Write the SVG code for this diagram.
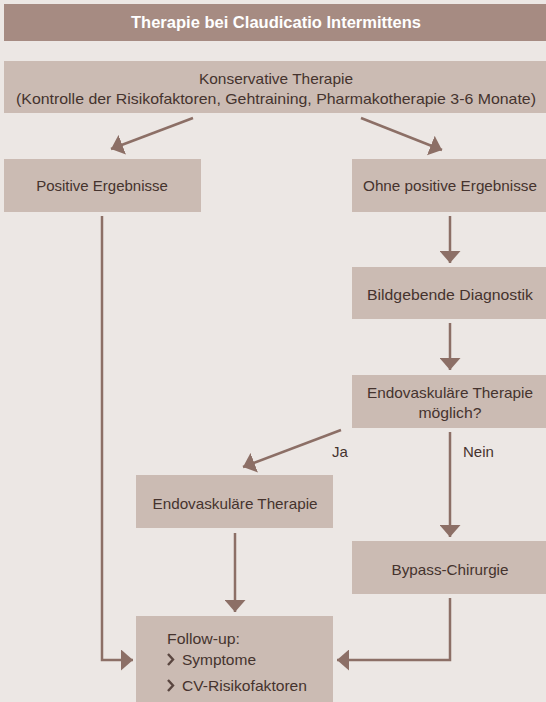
<svg xmlns="http://www.w3.org/2000/svg" width="546" height="702" viewBox="0 0 546 702">
<style>
.box{fill:#CBBBB3}
.t{font-family:"Liberation Sans",Arial,sans-serif;font-size:15px;fill:#45332E}
.c{text-anchor:middle}
.title{font-family:"Liberation Sans",Arial,sans-serif;font-size:16px;font-weight:bold;fill:#FFFFFF;text-anchor:middle}
.ln{fill:none;stroke:#8C6F66;stroke-width:2.5}
.chev{fill:none;stroke:#5A4640;stroke-width:2.4}
</style>
<defs>
<marker id="ah" viewBox="0 0 12 21" refX="12" refY="10.5" markerWidth="12" markerHeight="21" markerUnits="userSpaceOnUse" orient="auto">
<path d="M0,0 L12,10.5 L0,21 z" fill="#8C6F66"/>
</marker>
</defs>
<rect x="0" y="0" width="546" height="702" fill="#ECE7E4"/>
<g id="title">
<rect x="4" y="4" width="542" height="37" fill="#A68B82"/>
<text class="title" x="276" y="28" textLength="290" lengthAdjust="spacingAndGlyphs">Therapie bei Claudicatio Intermittens</text>
</g>
<g id="konservativ">
<rect class="box" x="4" y="61" width="542" height="52"/>
<text class="t c" x="276" y="84" textLength="154" lengthAdjust="spacingAndGlyphs">Konservative Therapie</text>
<text class="t c" x="276" y="104" textLength="520" lengthAdjust="spacingAndGlyphs">(Kontrolle der Risikofaktoren, Gehtraining, Pharmakotherapie 3-6 Monate)</text>
</g>
<g id="positiv">
<rect class="box" x="4" y="159" width="197" height="53"/>
<text class="t c" x="102" y="191">Positive Ergebnisse</text>
</g>
<g id="ohne">
<rect class="box" x="352" y="159" width="194" height="53"/>
<text class="t c" x="450" y="191" textLength="174" lengthAdjust="spacingAndGlyphs">Ohne positive Ergebnisse</text>
</g>
<g id="bildgebend">
<rect class="box" x="352" y="267" width="194" height="52"/>
<text class="t c" x="450" y="300" textLength="166" lengthAdjust="spacingAndGlyphs">Bildgebende Diagnostik</text>
</g>
<g id="moeglich">
<rect class="box" x="352" y="375" width="194" height="53"/>
<text class="t c" x="450" y="398" textLength="166" lengthAdjust="spacingAndGlyphs">Endovaskuläre Therapie</text>
<text class="t c" x="450" y="418" textLength="63" lengthAdjust="spacingAndGlyphs">möglich?</text>
</g>
<g id="endovaskulaer">
<rect class="box" x="136" y="475" width="197" height="53"/>
<text class="t c" x="235" y="509" textLength="165" lengthAdjust="spacingAndGlyphs">Endovaskuläre Therapie</text>
</g>
<g id="bypass">
<rect class="box" x="352" y="541" width="194" height="53"/>
<text class="t c" x="450" y="575" textLength="117" lengthAdjust="spacingAndGlyphs">Bypass-Chirurgie</text>
</g>
<g id="followup">
<rect class="box" x="136" y="616" width="197" height="86"/>
<text class="t" x="167" y="644" textLength="73" lengthAdjust="spacingAndGlyphs">Follow-up:</text>
<path class="chev" d="M168,654 L173,659.5 L168,665"/>
<text class="t" x="182" y="665" textLength="74" lengthAdjust="spacingAndGlyphs">Symptome</text>
<path class="chev" d="M168,680 L173,685.5 L168,691"/>
<text class="t" x="182" y="691" textLength="125" lengthAdjust="spacingAndGlyphs">CV-Risikofaktoren</text>
</g>
<g id="connectors">
<path class="ln" d="M193,118 L111,149" marker-end="url(#ah)"/>
<path class="ln" d="M361,118 L442,150" marker-end="url(#ah)"/>
<path class="ln" d="M102,216 L102,660 L133,660" marker-end="url(#ah)"/>
<path class="ln" d="M450,216 L450,263" marker-end="url(#ah)"/>
<path class="ln" d="M450,323 L450,370" marker-end="url(#ah)"/>
<path class="ln" d="M341,430 L243,467" marker-end="url(#ah)"/>
<path class="ln" d="M450,432 L450,537" marker-end="url(#ah)"/>
<path class="ln" d="M235,533 L235,612" marker-end="url(#ah)"/>
<path class="ln" d="M450,598 L450,660 L337,660" marker-end="url(#ah)"/>
<text class="t" x="332" y="457">Ja</text>
<text class="t" x="463" y="457">Nein</text>
</g>
</svg>
